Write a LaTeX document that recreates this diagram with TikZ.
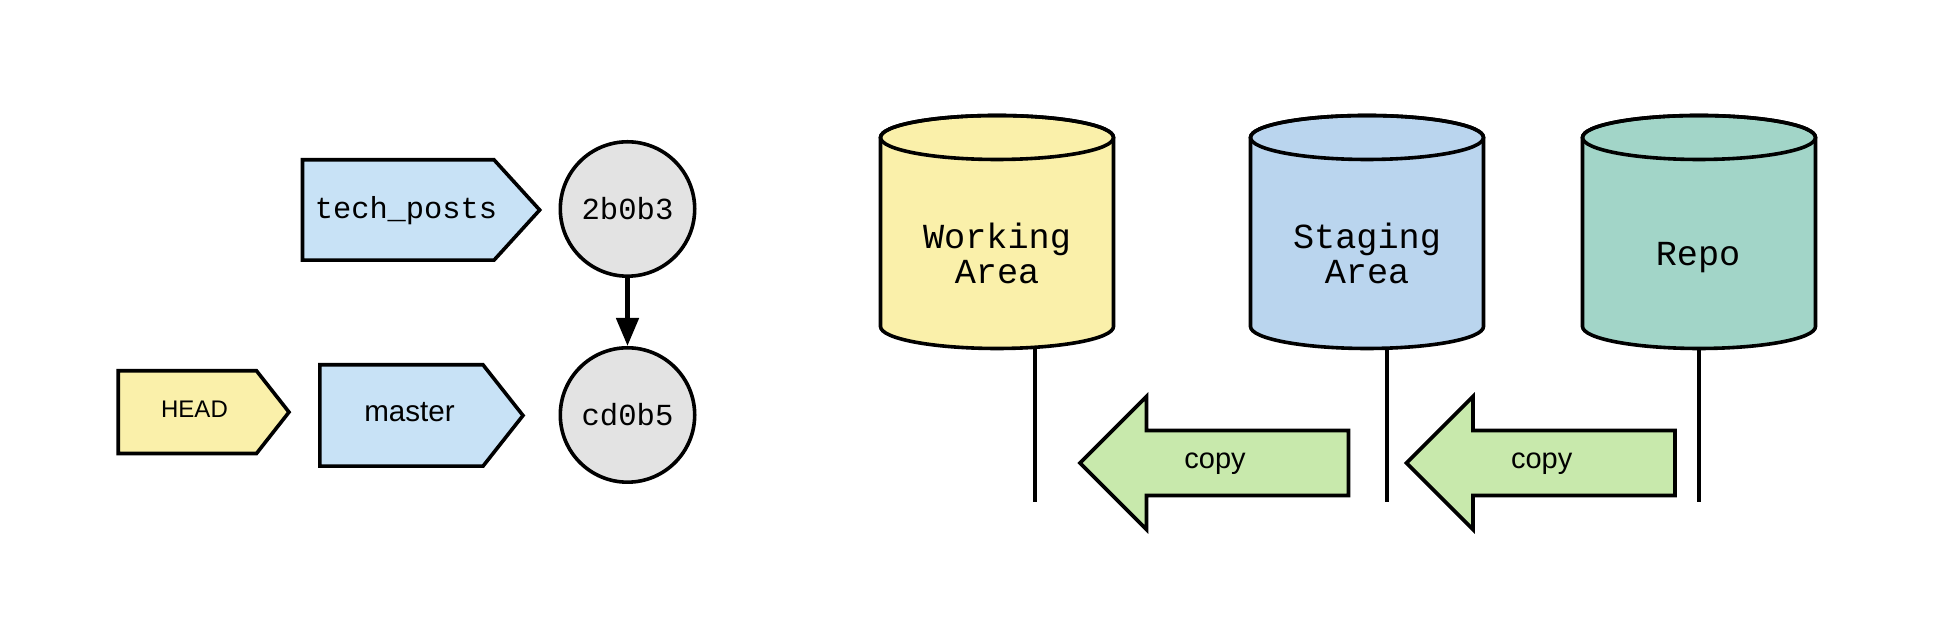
\documentclass[tikz,border=0pt]{standalone}
\usepackage{fontspec}
\setmainfont{Liberation Sans}
\newfontfamily\monof{Liberation Mono}
\usetikzlibrary{arrows.meta,backgrounds}
\definecolor{branchblue}{RGB}{200,226,246}
\definecolor{headyel}{RGB}{250,240,170}
\definecolor{commitgrey}{RGB}{227,227,227}
\definecolor{stageblue}{RGB}{186,213,238}
\definecolor{repoteal}{RGB}{162,213,200}
\definecolor{copygreen}{RGB}{200,233,172}
\tikzset{
  outline/.style={draw=black, line width=1.8pt, line join=miter},
  commit/.style={circle, outline, fill=commitgrey, minimum size=67.2pt, inner sep=0pt, font=\monof\fontsize{15.3}{17}\selectfont},
  branchtext/.style={inner sep=0pt, anchor=base, font=\monof\fontsize{15.2}{17}\selectfont},
  reftext/.style={inner sep=0pt, anchor=base, font=\fontsize{14.8}{17}\selectfont},
  headtext/.style={inner sep=0pt, anchor=base, font=\fontsize{12}{14}\selectfont},
  cyltext/.style={inner sep=0pt, align=center, font=\monof\fontsize{17.6}{17.5}\selectfont},
  copytext/.style={inner sep=0pt, anchor=base, font=\fontsize{14.5}{17}\selectfont},
  stem/.style={draw=black, line width=2pt},
  parent/.style={draw=black, line width=2.4pt, -{Triangle[width=11pt,length=14pt]}}
}
% pentagon: x-left, x-flat, x-tip, y-top, y-bottom, fill
\newcommand\branchshape[6]{%
  \draw[outline, fill=#6] (#1,#4) -- (#2,#4) -- (#3,{(#4+#5)/2}) -- (#2,#5) -- (#1,#5) -- cycle;}
% cylinder: centre x, fill
\newcommand\drawcyl[2]{%
  \draw[outline, fill=#2] ({#1-116.5},502.5) -- ({#1-116.5},313.5)
     arc[start angle=180, end angle=360, x radius=116.5, y radius=22]
     -- ({#1+116.5},502.5)
     arc[start angle=0, end angle=180, x radius=116.5, y radius=22] -- cycle;
  \draw[outline] (#1,502.5) ellipse [x radius=116.5, y radius=22];}
% copy arrow: tip x
\newcommand\copyarrow[1]{%
  \draw[outline, fill=copygreen] (#1,177) -- ({#1+66.5},243.5) -- ({#1+66.5},209.5)
     -- ({#1+268.5},209.5) -- ({#1+268.5},144.5) -- ({#1+66.5},144.5)
     -- ({#1+66.5},110.5) -- cycle;}
\begin{document}
\begin{tikzpicture}[x=0.5pt, y=0.5pt]
\useasboundingbox (0,0) rectangle (1940,640);

% branch labels
\branchshape{302.5}{494}{539.7}{480.2}{379.8}{branchblue}
\node[branchtext] (tp) at (406,421) {tech\_posts};
\branchshape{118.2}{256.5}{289}{269.2}{186.5}{headyel}
\node[headtext] (head) at (194.5,222.3) {HEAD};
\branchshape{319.8}{483}{523}{275.2}{173.8}{branchblue}
\node[reftext] (master) at (409.5,218.3) {master};

% commits
\node[commit] (c1) at (627.5,431) {2b0b3};
\node[commit] (c2) at (627.5,225) {cd0b5};
\draw[parent] (c1) -- (c2);

% cylinders
\drawcyl{997}{headyel}
\drawcyl{1367}{stageblue}
\drawcyl{1699}{repoteal}
\node[cyltext] (wa) at (997,387) {Working\\Area};
\node[cyltext] (sa) at (1367,387) {Staging\\Area};
\node[cyltext, anchor=base] (repo) at (1698,374.3) {Repo};

% lifelines
\coordinate (waTop) at (1035,292);
\coordinate (waBot) at (1035,138.3);
\coordinate (saTop) at (1387,292);
\coordinate (saBot) at (1387,138.3);
\coordinate (rpTop) at (1699.3,292);
\coordinate (rpBot) at (1699.3,138.3);
\draw[stem] (waTop) -- (waBot);
\draw[stem] (saTop) -- (saBot);
\draw[stem] (rpTop) -- (rpBot);

% copy arrows
\copyarrow{1080}
\node[copytext] (copy1) at (1215,171.7) {copy};
\copyarrow{1406.5}
\node[copytext] (copy2) at (1541.7,171.7) {copy};
\end{tikzpicture}
\end{document}
